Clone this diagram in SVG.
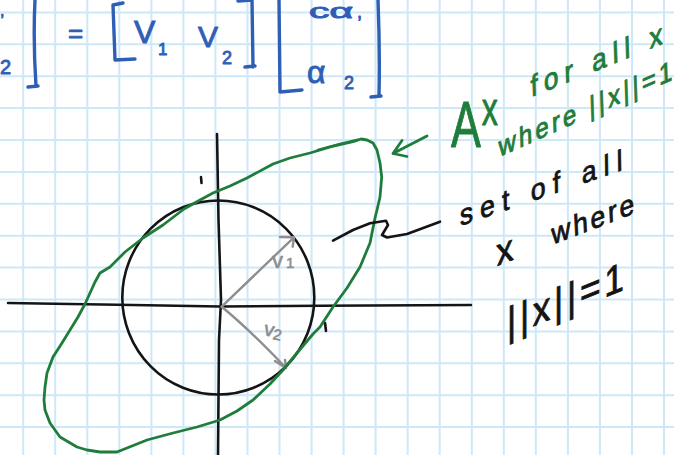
<svg xmlns="http://www.w3.org/2000/svg" width="674" height="455" viewBox="0 0 674 455">
<style>
.grid{stroke:#cde8f8;stroke-width:2;fill:none}
.blk{stroke:#141414;stroke-width:2.6;fill:none;stroke-linecap:round;stroke-linejoin:round}
.grn{stroke:#1f7d3b;stroke-width:2.8;fill:none;stroke-linecap:round;stroke-linejoin:round}
.gry{stroke:#8e8e8e;stroke-width:2.4;fill:none;stroke-linecap:round;stroke-linejoin:round}
.blu{stroke:#2f5fb5;stroke-width:3.4;fill:none;stroke-linecap:round;stroke-linejoin:round}
text{font-family:"Liberation Sans","DejaVu Sans",sans-serif;stroke-linejoin:round}
.tb{fill:#2f5fb5;stroke:#2f5fb5;stroke-width:0.9}
.tg{fill:#1f7d3b;stroke:#1f7d3b;stroke-width:0.9}
.tk{fill:#141414;stroke:#141414;stroke-width:0.8}
.tgy{fill:#8e8e8e;stroke:#8e8e8e;stroke-width:0.6}
</style>
<rect width="674" height="455" fill="#ffffff"/>
<path class="grid" d="M23.2,0V455M55.2,0V455M87.3,0V455M119.3,0V455M151.4,0V455M183.4,0V455M215.4,0V455M247.5,0V455M279.5,0V455M311.6,0V455M343.6,0V455M375.6,0V455M407.7,0V455M439.7,0V455M471.8,0V455M503.8,0V455M535.8,0V455M567.9,0V455M599.9,0V455M632,0V455M664,0V455M0,12.4H674M0,44.3H674M0,76.2H674M0,108.1H674M0,140H674M0,171.9H674M0,203.8H674M0,235.7H674M0,267.6H674M0,299.5H674M0,331.4H674M0,363.3H674M0,395.2H674M0,427.1H674"/>

<g id="matrix-equation">
  <text class="tb" x="0" y="16" font-size="16" stroke-width="1.4">,</text>
  <text class="tb" x="0" y="74" font-size="20">2</text>
  <path class="blu" d="M35,0 Q33,40 36,86 M28,87 L38,86"/>
  <text class="tb" x="68" y="42" font-size="26">=</text>
  <path class="blu" d="M123,3 L113,5 L115,60 L135,59"/>
  <text class="tb" x="134" y="43" font-size="32">V<tspan x="158" y="55" font-size="17">1</tspan></text>
  <text class="tb" x="198" y="47" font-size="30">V<tspan x="222" y="64" font-size="18">2</tspan></text>
  <path class="blu" d="M238,1 L252,0 L253,67 M245,67 L255,66"/>
  <path class="blu" d="M279,0 L280,92 L302,90"/>
  <text class="tb" x="309" y="18" font-size="20" stroke-width="1.3" textLength="44" lengthAdjust="spacingAndGlyphs">cα</text>
  <text class="tb" x="357" y="18" font-size="18" stroke-width="1.4">,</text>
  <text class="tb" x="307" y="83" font-size="32">α<tspan x="344" y="89" font-size="18">2</tspan></text>
  <path class="blu" d="M378,0 Q380,50 379,96 M371,97 L381,96"/>
</g>

<g id="axes">
  <path class="blk" d="M8,303 L133,305 L220,306.5 L320,305.7 L471,305"/>
  <path class="blk" d="M217,134 L218.5,220 L221,300 L219,340 L218,455"/>
  <path class="blk" d="M201,177 L201.5,183"/>
  <path class="blk" d="M325,323 L326,331"/>
</g>

<g id="unit-circle">
  <ellipse class="blk" cx="218.3" cy="297.5" rx="96" ry="97"/>
</g>

<g id="vectors">
  <path class="gry" d="M221.7,306.7 L294,237.3 M280,237 L294,237.3 L292.7,246.7"/>
  <path class="gry" d="M221.7,306.7 Q250,330 286,368 M275,361 L286,368 L285,360"/>
  <text class="tgy" x="272" y="268" font-size="22">v<tspan x="286" y="268" font-size="15">1</tspan></text>
  <text class="tgy" transform="translate(263,335) rotate(12)" font-size="20">v<tspan font-size="15" dy="2">2</tspan></text>
</g>

<g id="image-ellipse">
  <path class="grn" d="M361,139 L367,140 L373,143 L377,150 L380,163 L381.7,177 L380,197 L377,210 L375,218 L370,243 L360,267 L347,288 L333,307 L320,327 L313,334 L297,353 L283,370 L270,384 L253,400 L237,411 L220,420 L197,427 L173,433 L147,440 L117,452 L100,452 L87,450 L77,447 L60,437 L50,423 L45,410 L44,400 L45,387 L47,373 L53,357 L62,343 L70,330 L78,317 L85,304 L90,293 L95,282 L100,273 L110,267 L125,252 L143,238 L163,225 L184,209 L200,200 L213,193 L230,186 L247,178 L273,164 L290,158 L310,153 L330,147 L353,141.7 Z"/>
  <path class="grn" d="M318,150 L340,144 L357,140" stroke-width="2.2"/>
</g>

<g id="connectors">
  <path class="grn" d="M427,136 L393,153.5 M402,140.5 L393,153.5 L407,156.5"/>
  <path class="blk" d="M333,240.7 L353,230 L370,223.3 L386,220.7 L388,225 L382,235 L387,237.5 L407,234 L440,221.7"/>
</g>

<g id="label-Ax">
  <text class="tg" transform="translate(451,147) scale(0.7,1)" font-size="64">A<tspan x="44" y="-22" font-size="46">x</tspan></text>
  <text class="tg" transform="translate(531,97) rotate(-22) skewX(-20)" font-size="28" textLength="142" lengthAdjust="spacing">for all x</text>
  <text class="tg" transform="translate(499,157) rotate(-24) skewX(-22)" font-size="26" textLength="190" lengthAdjust="spacing">where ||x||=1</text>
</g>

<g id="label-set">
  <text class="tk" transform="translate(460,226) rotate(-19) skewX(-18)" font-size="28" textLength="172" lengthAdjust="spacing">set of all</text>
  <text class="tk" transform="translate(497,266) rotate(-21) skewX(-18)" font-size="36">x<tspan x="59" font-size="28" letter-spacing="3">where</tspan></text>
  <text class="tk" transform="translate(507,337) rotate(-22) skewX(-22)" font-size="38" textLength="126" lengthAdjust="spacing">||x||=1</text>
</g>
</svg>
